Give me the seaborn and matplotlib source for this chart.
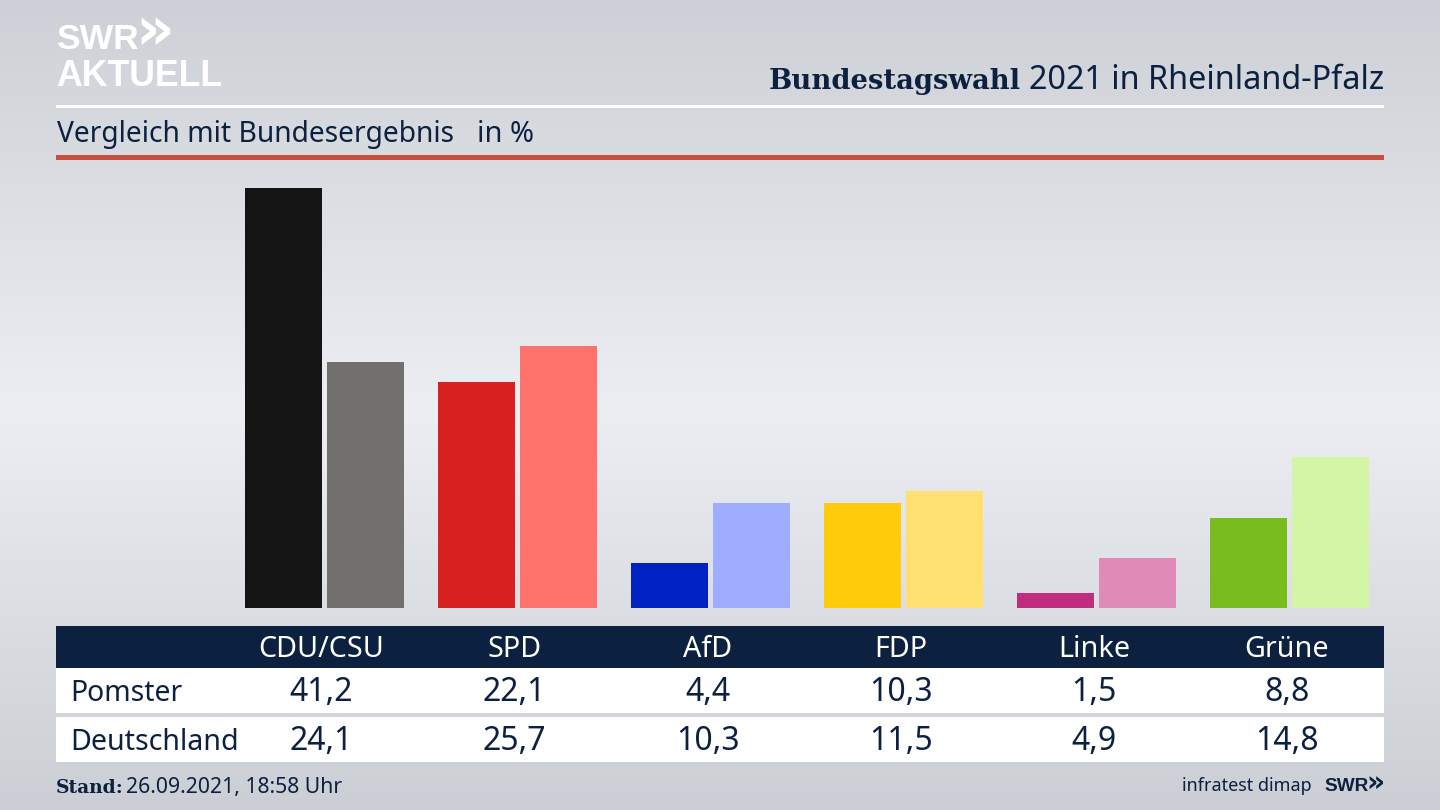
import numpy as np
import pandas as pd
import matplotlib
matplotlib.use("Agg")
import matplotlib.pyplot as plt
from matplotlib.patches import Rectangle
import seaborn as sns

parties = ["CDU/CSU", "SPD", "AfD", "FDP", "Linke", "Grüne"]
pomster = [41.2, 22.1, 4.4, 10.3, 1.5, 8.8]
deutschland = [24.1, 25.7, 10.3, 11.5, 4.9, 14.8]
pomster_labels = ["41,2", "22,1", "4,4", "10,3", "1,5", "8,8"]
deutschland_labels = ["24,1", "25,7", "10,3", "11,5", "4,9", "14,8"]
pomster_colors = ["#141414", "#d8201e", "#0022c4", "#ffcb0a", "#c02d7e", "#78bc1e"]
deutschland_colors = ["#72706e", "#ff726c", "#9fadff", "#ffe070", "#e08ab8", "#d3f5a6"]

W, H = 1440, 810
NAVY = "#0c2040"
FONT = "Noto Sans"
BOLD_SANS = "Liberation Sans"
BOLD_SLAB = "DejaVu Serif"

sns.set_theme(style="white")
plt.rcParams["font.family"] = [FONT, "DejaVu Sans"]

fig = plt.figure(figsize=(W / 100, H / 100), dpi=100)

# background
bg = fig.add_axes([0, 0, 1, 1], zorder=0)
bg.axis("off")
stops_y = [0, 410, 810]
stops_c = [[0.804, 0.816, 0.839], [0.925, 0.933, 0.950], [0.796, 0.808, 0.831]]
ys = np.arange(H)
grad = np.stack([np.interp(ys, stops_y, [c[i] for c in stops_c]) for i in range(3)], axis=1)[:, None, :]
bg.imshow(grad, aspect="auto", extent=(0, W, H, 0), interpolation="bilinear")
bg.set_xlim(0, W)
bg.set_ylim(H, 0)

# bars
X0, X1, Y_TOP, Y_BASE = 56, 1384, 160, 608
PX_PER_UNIT = 10.205
CENTER0, STEP = 324.5, 193
ax = fig.add_axes([X0 / W, 1 - Y_BASE / H, (X1 - X0) / W, (Y_BASE - Y_TOP) / H], zorder=1)
df = pd.DataFrame({
    "Partei": parties * 2,
    "Wert": pomster + deutschland,
    "Gebiet": ["Pomster"] * 6 + ["Deutschland"] * 6,
})
sns.barplot(data=df, x="Partei", y="Wert", hue="Gebiet", order=parties,
            hue_order=["Pomster", "Deutschland"], width=0.85, gap=0.061,
            legend=False, ax=ax, saturation=1, linewidth=0, errorbar=None)
for container, colors in zip(ax.containers, [pomster_colors, deutschland_colors]):
    for patch, color in zip(container, colors):
        patch.set_facecolor(color)
ax.set_xlim((X0 - CENTER0) / STEP, (X1 - CENTER0) / STEP)
ax.set_ylim(0, (Y_BASE - Y_TOP) / PX_PER_UNIT)
ax.axis("off")

# overlay in pixel coordinates
ov = fig.add_axes([0, 0, 1, 1], zorder=2)
ov.set_xlim(0, W)
ov.set_ylim(H, 0)
ov.axis("off")
ov.patch.set_alpha(0)

def band(y0, y1, color):
    ov.add_patch(Rectangle((X0, y0), X1 - X0, y1 - y0, facecolor=color, edgecolor="none"))

def px(size):
    return size * 0.72

band(104.5, 107.5, "#ffffff")
band(155, 160, "#c9503d")
band(626, 668, NAVY)
band(668, 713, "#ffffff")
band(717, 762, "#ffffff")

# logo
ov.text(56, 49, "SWR", color="white", fontsize=px(35.5), fontweight="bold", family=BOLD_SANS, ha="left", va="baseline")
ov.text(135, 49, "»", color="white", fontsize=px(60), fontweight="bold", family="DejaVu Sans", ha="left", va="baseline")
ov.text(56, 86, "AKTUELL", color="white", fontsize=px(35.6), fontweight="bold", family=BOLD_SANS, ha="left", va="baseline")

# titles
t1 = ov.text(1384, 89, "2021 in Rheinland-Pfalz", color=NAVY, fontsize=px(32.4), ha="right", va="baseline")
fig.canvas.draw()
bb = t1.get_window_extent()
ov.text(bb.x0 - 8, 89, "Bundestagswahl", color=NAVY, fontsize=px(27.5), fontweight="bold", family=BOLD_SLAB, ha="right", va="baseline")
ov.text(57, 142, "Vergleich mit Bundesergebnis", color=NAVY, fontsize=px(28.2), ha="left", va="baseline")
ov.text(477, 142, "in %", color=NAVY, fontsize=px(29), ha="left", va="baseline")

# table
col_x = [321.5, 514.5, 708, 901, 1094, 1287]
for x, p, a, b in zip(col_x, parties, pomster_labels, deutschland_labels):
    ov.text(x, 657, p, color="white", fontsize=px(28.7), ha="center", va="baseline")
    ov.text(x, 701, a, color=NAVY, fontsize=px(32), ha="center", va="baseline")
    ov.text(x, 750.5, b, color=NAVY, fontsize=px(32), ha="center", va="baseline")
ov.text(70, 701, "Pomster", color=NAVY, fontsize=px(28.4), ha="left", va="baseline")
ov.text(70, 750, "Deutschland", color=NAVY, fontsize=px(28.6), ha="left", va="baseline")

# footer
ov.text(56, 793, "Stand:", color=NAVY, fontsize=px(18.6), fontweight="bold", family=BOLD_SLAB, ha="left", va="baseline")
ov.text(126, 793, "26.09.2021, 18:58 Uhr", color=NAVY, fontsize=px(21.2), ha="left", va="baseline")
ov.text(1312, 791, "infratest dimap", color=NAVY, fontsize=px(18), ha="right", va="baseline")
ov.text(1324, 791, "SWR", color=NAVY, fontsize=px(19), fontweight="bold", family=BOLD_SANS, ha="left", va="baseline")
ov.text(1366, 791, "»", color=NAVY, fontsize=px(28), fontweight="bold", family="DejaVu Sans", ha="left", va="baseline")

fig.savefig("out.png", dpi=100)
